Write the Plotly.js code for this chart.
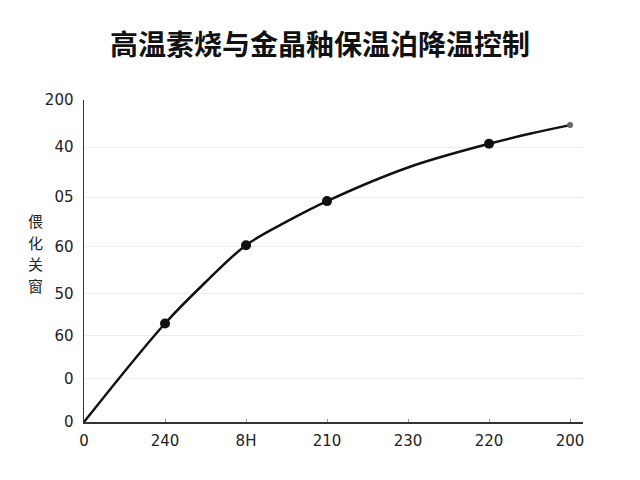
<!DOCTYPE html>
<html>
<head>
<meta charset="utf-8">
<script src="https://cdn.plot.ly/plotly-3.0.1.min.js"></script>
<style>
  html, body { margin: 0; padding: 0; background: #fff; }
  #plotZone { width: 640px; height: 480px; }
</style>
</head>
<body>
<div id="plotZone"></div>
<script>
// curve (x in tick steps, y on a 0-200 scale)
var curveX = [0, 1, 1.5, 2, 2.5, 3, 4, 5, 5.5, 6];
var curveY = [0, 61.2, 86.8, 109.8, 124.4, 137.2, 158.1, 172.8, 179, 184.4];

// the black dots
var dotX = [1, 2, 3, 5];
var dotY = [61.2, 109.8, 137.2, 172.8];

// small grey end dot
var endX = [6];
var endY = [184.4];

var xTickVals = [0, 1, 2, 3, 4, 5, 6];
var xTickText = ["0", "240", "8H", "210", "230", "220", "200"];

var yTickVals = [0, 26.8, 53.6, 79.8, 109, 139.6, 170.7, 200];
var yTickText = ["0", "0", "60", "50", "60", "05", "40", "200"];

var titleText = "高温素烧与金晶釉保温泊降温控制";
var yTitleChars = ["偎", "化", "关", "窗"];

var font = "'DejaVu Sans', 'Noto Sans CJK SC', sans-serif";

var traceLine = {
    x: curveX,
    y: curveY,
    type: 'scatter',
    mode: 'lines',
    line: {color: '#111', width: 2.5, shape: 'spline', smoothing: 1},
    hoverinfo: 'skip'
};
var traceDots = {
    x: dotX,
    y: dotY,
    type: 'scatter',
    mode: 'markers',
    marker: {color: '#111', size: 10}
};
var traceEnd = {
    x: endX,
    y: endY,
    type: 'scatter',
    mode: 'markers',
    marker: {color: '#666', size: 6}
};

// stacked y title, one character per annotation
var annots = [];
for (var i = 0; i < yTitleChars.length; i++) {
    annots.push({
        text: yTitleChars[i],
        xref: 'paper',
        yref: 'paper',
        x: -0.098,
        y: 0.525,
        yshift: (1.5 - i) * 21.7,
        xanchor: 'center',
        yanchor: 'middle',
        showarrow: false,
        font: {family: "'Noto Sans CJK SC', sans-serif", size: 15, color: '#222'}
    });
}

var layout = {
    width: 640,
    height: 480,
    showlegend: false,
    paper_bgcolor: '#fff',
    plot_bgcolor: '#fff',
    margin: {l: 84, r: 57, t: 100, b: 58},
    title: {
        text: "<b>" + titleText + "</b>",
        font: {family: "'Noto Sans CJK SC', sans-serif", size: 28, color: '#111'},
        x: 0.5,
        xanchor: 'center',
        y: 0.905,
        yanchor: 'middle'
    },
    xaxis: {
        range: [0, 6.16],
        tickvals: xTickVals,
        ticktext: xTickText,
        showgrid: false,
        zeroline: false,
        showline: true,
        linecolor: '#333',
        linewidth: 1.5,
        ticks: 'inside',
        ticklen: 3,
        tickcolor: '#999',
        ticklabelstandoff: 4,
        tickfont: {family: font, size: 15, color: '#222'}
    },
    yaxis: {
        range: [0, 200],
        tickvals: yTickVals,
        ticktext: yTickText,
        showgrid: true,
        gridcolor: '#eeeeee',
        gridwidth: 1,
        zeroline: false,
        showline: true,
        linecolor: '#333',
        linewidth: 1.5,
        ticks: '',
        ticklabelstandoff: 6,
        tickfont: {family: font, size: 15, color: '#222'}
    },
    annotations: annots
};

Plotly.newPlot("plotZone", [traceLine, traceDots, traceEnd], layout, {displayModeBar: false, staticPlot: true});
</script>
</body>
</html>
